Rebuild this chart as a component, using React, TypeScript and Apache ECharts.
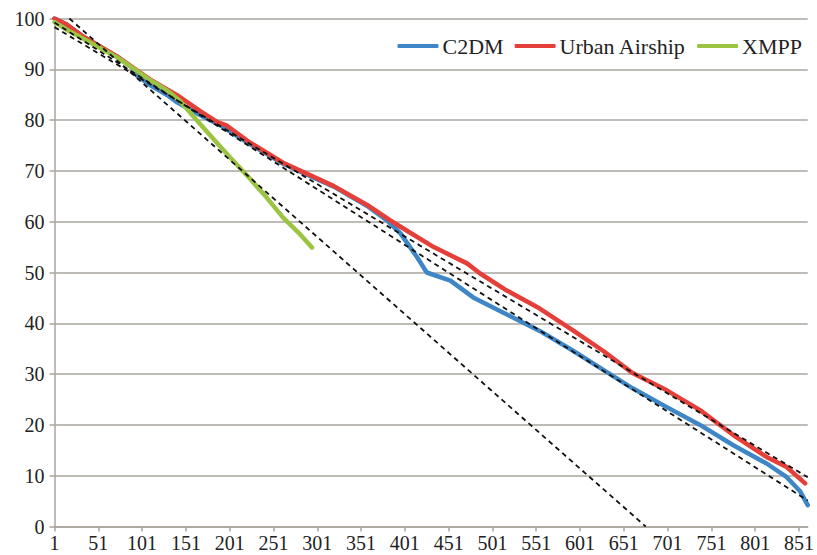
import React, { useEffect, useRef } from "react";
import * as echarts from "echarts";

// Category ticks shown on the x axis
const xTickLabels = [1, 51, 101, 151, 201, 251, 301, 351, 401, 451, 501, 551, 601, 651, 701, 751, 801, 851];

// C2DM (blue) key points
const c2dmX = [1, 15, 34, 72, 91, 95, 110, 130, 141, 167, 190, 224, 262, 300, 320, 358, 381, 396, 415, 426, 453, 479, 517, 555, 593, 628, 661, 700, 738, 776, 814, 837, 852, 861];
const c2dmY = [100, 98.8, 96.4, 92.5, 90.2, 88.8, 86.9, 84.9, 83.5, 81, 79, 75.3, 71.4, 68.4, 66.9, 63.1, 60.2, 57.7, 53, 50, 48.4, 45.1, 41.8, 38.5, 34.6, 30.8, 27.2, 23.5, 20, 16, 12.4, 9.7, 7, 4.2];

// Urban Airship (red) key points
const uaX = [1, 15, 34, 72, 91, 110, 141, 167, 187, 198, 224, 262, 282, 300, 320, 358, 384, 396, 434, 472, 487, 517, 555, 593, 628, 661, 700, 738, 776, 814, 837, 858];
const uaY = [100, 98.8, 96.4, 92.6, 90.3, 88, 84.9, 81.8, 79.6, 78.9, 75.6, 71.6, 70, 68.6, 67, 63.3, 60.3, 59, 55, 51.8, 49.8, 46.5, 42.9, 38.6, 34.5, 30.2, 26.8, 22.9, 18, 13.7, 11.7, 8.5];

// XMPP (green) key points
const xmppX = [1, 15, 34, 72, 91, 110, 130, 144, 167, 186, 205, 224, 243, 262, 281, 295];
const xmppY = [99.3, 97.8, 96, 92.4, 90.2, 87.9, 85.8, 83.8, 79.3, 75.6, 72, 68.5, 64.8, 60.8, 57.6, 54.9];

// Linear trend lines (start / end points)
const trendC2dmX = [1, 861];
const trendC2dmY = [99.2, 5.1];
const trendUaX = [1, 861];
const trendUaY = [98.3, 9.7];
const trendXmppX = [18, 676];
const trendXmppY = [100, 0];

const seriesNames = ["C2DM", "Urban Airship", "XMPP"];
const seriesColors = ["#3f86c6", "#e53f3a", "#9cc443"];

const pairs = (xs: number[], ys: number[]) => xs.map((x, i) => [x, ys[i]]);

export default function App() {
  const ref = useRef<HTMLDivElement>(null);
  useEffect(() => {
    if (!ref.current) return;
    const chart = echarts.init(ref.current, null, { renderer: "svg" });
    const gridColor = "#aaa49e";
    const font = "'Liberation Serif', 'Times New Roman', serif";
    const mainLine = (name: string, color: string, data: number[][]) => ({
      name,
      type: "line",
      data,
      symbol: "none",
      lineStyle: { color, width: 4.5, cap: "round", join: "round" },
      itemStyle: { color },
      emphasis: { disabled: true },
    });
    const trend = (data: number[][]) => ({
      type: "line",
      data,
      symbol: "none",
      silent: true,
      lineStyle: { color: "#111", width: 1.8, type: [5, 4] },
      z: 5,
    });
    chart.setOption({
      animation: false,
      backgroundColor: "#ffffff",
      textStyle: { fontFamily: font },
      grid: { left: 54.5, right: 9, top: 18.5, bottom: 28.5, containLabel: false },
      legend: {
        data: seriesNames,
        right: 10,
        top: 30,
        icon: "roundRect",
        itemWidth: 41,
        itemHeight: 4,
        itemGap: 11,
        textStyle: { fontFamily: font, fontSize: 22, color: "#222", padding: [0, 0, 0, -1] },
      },
      xAxis: {
        type: "value",
        min: 1,
        max: 861,
        interval: 50,
        splitLine: { show: false },
        axisLine: { show: true, lineStyle: { color: gridColor, width: 1.5 } },
        axisTick: { show: true, length: 5, lineStyle: { color: gridColor, width: 1.5 }, customValues: xTickLabels },
        axisLabel: { fontFamily: font, fontSize: 20, color: "#222", margin: 6, customValues: xTickLabels },
      },
      yAxis: {
        type: "value",
        min: 0,
        max: 100,
        interval: 10,
        splitLine: { show: true, lineStyle: { color: gridColor, width: 1.5 } },
        axisLine: { show: true, lineStyle: { color: gridColor, width: 1.5 } },
        axisTick: { show: true, length: 5, lineStyle: { color: gridColor, width: 1.5 } },
        axisLabel: { fontFamily: font, fontSize: 20, color: "#222", margin: 10 },
      },
      series: [
        mainLine(seriesNames[0], seriesColors[0], pairs(c2dmX, c2dmY)),
        mainLine(seriesNames[1], seriesColors[1], pairs(uaX, uaY)),
        mainLine(seriesNames[2], seriesColors[2], pairs(xmppX, xmppY)),
        trend(pairs(trendC2dmX, trendC2dmY)),
        trend(pairs(trendUaX, trendUaY)),
        trend(pairs(trendXmppX, trendXmppY)),
      ],
    });
    return () => chart.dispose();
  }, []);
  return (
    <div
      ref={ref}
      style={{ position: "fixed", left: 0, top: 0, width: 817, height: 555, background: "#fff" }}
    />
  );
}
